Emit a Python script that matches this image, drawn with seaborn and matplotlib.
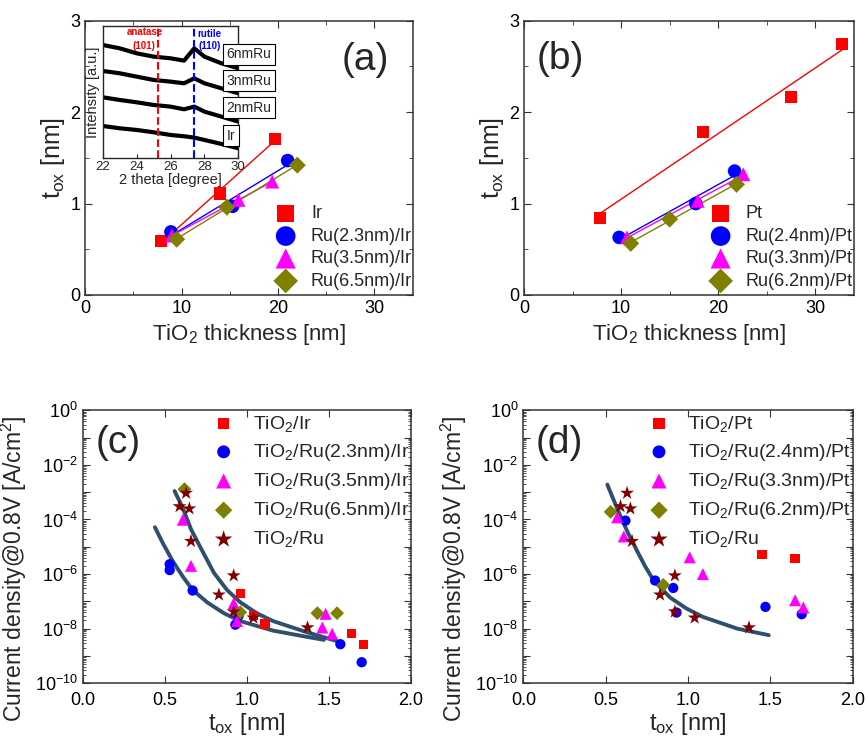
import numpy as np
import matplotlib
matplotlib.use("Agg")
import matplotlib.pyplot as plt
import seaborn as sns
from matplotlib.ticker import MultipleLocator, LogLocator, NullFormatter, FixedLocator

# ---- panel (a): TiO2 thickness vs t_ox on Ir ----
a_ir_x = [7.9, 14.0, 19.7]
a_ir_y = [0.59, 1.11, 1.71]
a_ru23_x = [8.9, 15.3, 21.0]
a_ru23_y = [0.69, 0.97, 1.47]
a_ru35_x = [9.0, 15.9, 19.4]
a_ru35_y = [0.65, 1.04, 1.24]
a_ru65_x = [9.5, 14.7, 22.0]
a_ru65_y = [0.61, 0.96, 1.42]

# inset XRD traces (read coarse from the picture)
xrd_theta = [22, 23, 24, 25, 26, 26.8, 27.4, 28, 29, 30]
xrd_6nm = [3.40, 3.30, 3.15, 3.05, 3.00, 2.93, 3.30, 3.05, 2.85, 2.70]
xrd_3nm = [2.62, 2.55, 2.45, 2.35, 2.30, 2.25, 2.40, 2.25, 2.10, 1.95]
xrd_2nm = [1.83, 1.75, 1.68, 1.60, 1.55, 1.47, 1.55, 1.40, 1.25, 1.10]
xrd_ir = [0.97, 0.90, 0.85, 0.78, 0.70, 0.66, 0.62, 0.55, 0.43, 0.30]
xrd_labels = ["6nmRu", "3nmRu", "2nmRu", "Ir"]

# ---- panel (b): TiO2 thickness vs t_ox on Pt ----
b_pt_x = [7.8, 18.4, 27.5, 32.8]
b_pt_y = [0.845, 1.78, 2.16, 2.74]
b_ru24_x = [9.8, 17.7, 21.7]
b_ru24_y = [0.63, 1.00, 1.355]
b_ru33_x = [10.6, 17.9, 22.6]
b_ru33_y = [0.63, 1.03, 1.32]
b_ru62_x = [11.0, 15.0, 21.9]
b_ru62_y = [0.565, 0.83, 1.21]

# ---- panel (c): current density vs t_ox on Ir ----
c_ir_t = [0.96, 1.04, 1.11, 1.64, 1.71]
c_ir_j = [2.0e-7, 3.0e-8, 1.5e-8, 6.8e-9, 2.7e-9]
c_ru23_t = [0.53, 0.53, 0.67, 0.93, 0.95, 1.57, 1.70]
c_ru23_j = [2.3e-6, 1.4e-6, 2.5e-7, 1.4e-8, 3.0e-8, 2.7e-9, 5.9e-10]
c_ru35_t = [0.61, 0.66, 0.92, 0.94, 1.48, 1.46, 1.52]
c_ru35_j = [9.8e-5, 2.0e-6, 8.5e-8, 1.9e-8, 3.5e-8, 1.1e-8, 6.5e-9]
c_ru65_t = [0.62, 0.96, 1.43, 1.55]
c_ru65_j = [1.3e-3, 4.0e-8, 3.7e-8, 3.7e-8]
c_fit1_t = [0.56, 0.61, 0.66, 0.72, 0.80, 0.88, 0.96, 1.06, 1.16, 1.36, 1.55]
c_fit1_j = [1.1e-3, 2.6e-4, 4.4e-5, 8.9e-6, 1.1e-6, 2.6e-7, 9.3e-8, 3.7e-8, 1.9e-8, 7.6e-9, 3.5e-9]
c_fit2_t = [0.44, 0.49, 0.55, 0.61, 0.67, 0.76, 0.86, 0.96, 1.16, 1.36, 1.47]
c_fit2_j = [5.2e-5, 1.3e-5, 2.9e-6, 8.1e-7, 2.6e-7, 9.1e-8, 3.7e-8, 1.9e-8, 8.5e-9, 5.1e-9, 3.9e-9]

# TiO2/Ru reference (same in c and d)
ru_t = [0.63, 0.59, 0.65, 0.66, 0.92, 0.83, 0.92, 1.04, 1.37]
ru_j = [9.3e-4, 3.0e-4, 2.5e-4, 1.6e-5, 8.8e-7, 1.75e-7, 4.2e-8, 2.5e-8, 1.1e-8]

# ---- panel (d): current density vs t_ox on Pt ----
d_pt_t = [1.45, 1.65]
d_pt_j = [5.2e-6, 3.7e-6]
d_ru24_t = [0.62, 0.80, 0.91, 0.93, 1.47, 1.69]
d_ru24_j = [9.1e-5, 5.8e-7, 3.1e-7, 3.9e-8, 6.3e-8, 3.4e-8]
d_ru33_t = [0.57, 0.61, 1.01, 1.09, 1.65, 1.70]
d_ru33_j = [1.2e-4, 2.4e-5, 4.1e-6, 1.0e-6, 1.1e-7, 6.0e-8]
d_ru62_t = [0.53, 0.85]
d_ru62_j = [1.9e-4, 4.0e-7]
d_fit_t = [0.51, 0.55, 0.59, 0.64, 0.69, 0.74, 0.79, 0.89, 0.99, 1.09, 1.30, 1.49]
d_fit_j = [1.9e-3, 4.9e-4, 1.3e-4, 2.8e-5, 7.2e-6, 1.9e-6, 6.0e-7, 1.4e-7, 5.5e-8, 2.7e-8, 1.0e-8, 5.8e-9]

RED, BLUE, MAG, OLIVE, STAR = "#ff0000", "#0000ff", "#ff00ff", "#808000", "#800000"
FIT = "#2f4f6f"

sns.set_style("ticks")
plt.rcParams['font.family'] = ['Liberation Sans', 'DejaVu Sans']
plt.rcParams['mathtext.fontset'] = 'custom'
plt.rcParams['mathtext.rm'] = 'Liberation Sans'
plt.rcParams['mathtext.it'] = 'Liberation Sans:italic'
plt.rcParams['mathtext.default'] = 'regular'

fig = plt.figure(figsize=(8.66, 7.41), dpi=100)
ax_a = fig.add_axes([0.0982, 0.6019, 0.3788, 0.3702])
ax_b = fig.add_axes([0.6051, 0.6019, 0.3810, 0.3702])
ax_c = fig.add_axes([0.0955, 0.0779, 0.3790, 0.3684])
ax_d = fig.add_axes([0.6043, 0.0779, 0.3804, 0.3684])


def style(ax):
    ax.tick_params(which='both', direction='in', top=True, right=True,
                   labelsize=13, color='#333333', labelcolor='black')
    ax.tick_params(which='major', length=5)
    ax.tick_params(which='minor', length=3)
    for s in ax.spines.values():
        s.set_linewidth(1.1)
        s.set_color('#333333')


def fit_line(ax, xs, ys, color):
    k, b = np.polyfit(xs, ys, 1)
    xx = np.array([min(xs), max(xs)])
    sns.lineplot(x=xx, y=k * xx + b, color=color, lw=1, ax=ax, legend=False)


def thickness_panel(ax, series, tag, loc_xy):
    for xs, ys, c, m, s, lab in series:
        fit_line(ax, xs, ys, c)
    for xs, ys, c, m, s, lab in series:
        sns.scatterplot(x=xs, y=ys, color=c, marker=m, s=s, edgecolor='none',
                        label=lab, ax=ax, zorder=3)
    ax.set_xlim(0, 34)
    ax.set_ylim(0, 3)
    ax.xaxis.set_major_locator(MultipleLocator(10))
    ax.xaxis.set_minor_locator(MultipleLocator(5))
    ax.yaxis.set_major_locator(MultipleLocator(1))
    ax.yaxis.set_minor_locator(MultipleLocator(0.5))
    ax.set_xlabel("TiO$_2$ thickness [nm]", fontsize=16)
    ax.set_ylabel("t$_{ox}$ [nm]", fontsize=18, labelpad=2)
    style(ax)
    ax.legend(loc='lower right', bbox_to_anchor=(1.03, -0.02), frameon=False,
              fontsize=13, markerscale=1.45, handletextpad=0.4,
              labelspacing=0.3, borderaxespad=0.2)
    ax.text(loc_xy[0], loc_xy[1], tag, transform=ax.transAxes, fontsize=28,
            ha='center', va='center')


thickness_panel(ax_a, [
    (a_ir_x, a_ir_y, RED, 's', 75, "Ir"),
    (a_ru23_x, a_ru23_y, BLUE, 'o', 95, "Ru(2.3nm)/Ir"),
    (a_ru35_x, a_ru35_y, MAG, '^', 100, "Ru(3.5nm)/Ir"),
    (a_ru65_x, a_ru65_y, OLIVE, 'D', 75, "Ru(6.5nm)/Ir"),
], "(a)", (0.854, 0.857))

thickness_panel(ax_b, [
    (b_pt_x, b_pt_y, RED, 's', 75, "Pt"),
    (b_ru24_x, b_ru24_y, BLUE, 'o', 95, "Ru(2.4nm)/Pt"),
    (b_ru33_x, b_ru33_y, MAG, '^', 100, "Ru(3.3nm)/Pt"),
    (b_ru62_x, b_ru62_y, OLIVE, 'D', 75, "Ru(6.2nm)/Pt"),
], "(b)", (0.11, 0.86))

# ---- inset XRD ----
ax_in = fig.add_axes([0.1186, 0.7864, 0.1566, 0.1790])
for tr in [xrd_6nm, xrd_3nm, xrd_2nm, xrd_ir]:
    sns.lineplot(x=xrd_theta, y=tr, color='black', lw=3, ax=ax_in, legend=False)
ax_in.axvline(25.28, color=RED, ls='--', lw=1.5)
ax_in.axvline(27.39, color=BLUE, ls='--', lw=1.5)
ax_in.set_xlim(22, 30)
ax_in.set_ylim(0, 3.98)
ax_in.set_xticks([22, 24, 26, 28, 30])
ax_in.set_yticks([])
ax_in.tick_params(axis='x', direction='in', labelsize=9.5, length=3, pad=2)
ax_in.set_xlabel("2 theta [degree]", fontsize=10.5, labelpad=0)
ax_in.set_ylabel("Intensity [a.u.]", fontsize=10.5, labelpad=2)
for s in ax_in.spines.values():
    s.set_linewidth(1)
ax_in.text(24.5, 0.95, "anatase", transform=ax_in.get_xaxis_transform(),
           color=RED, fontsize=7, fontweight='bold', ha='center', va='center')
ax_in.text(24.45, 0.85, "(101)", transform=ax_in.get_xaxis_transform(),
           color=RED, fontsize=7, fontweight='bold', ha='center', va='center')
ax_in.text(28.3, 0.94, "rutile", transform=ax_in.get_xaxis_transform(),
           color=BLUE, fontsize=7, fontweight='bold', ha='center', va='center')
ax_in.text(28.3, 0.85, "(110)", transform=ax_in.get_xaxis_transform(),
           color=BLUE, fontsize=7, fontweight='bold', ha='center', va='center')
for lab, yy in zip(xrd_labels, [3.12, 2.33, 1.51, 0.67]):
    ax_in.text(29.3, yy, lab, fontsize=10, ha='left', va='center', clip_on=False,
               zorder=10, bbox=dict(boxstyle='square,pad=0.25', fc='white',
                                    ec='black', lw=0.8))


def current_panel(ax, series, fits, tag):
    for ft, fj in fits:
        sns.lineplot(x=ft, y=fj, color=FIT, lw=2.8, ax=ax, legend=False,
                     estimator=None, sort=False)
    for xs, ys, c, m, s, lab in series:
        sns.scatterplot(x=xs, y=ys, color=c, marker=m, s=s, edgecolor='none',
                        label=lab, ax=ax, zorder=3)
    ax.set_yscale('log')
    ax.set_ylim(1e-10, 1)
    ax.set_xlim(0, 2)
    ax.set_xticks([0, 0.5, 1.0, 1.5, 2.0])
    ax.set_xticklabels(["0.0", "0.5", "1.0", "1.5", "2.0"])
    ax.yaxis.set_major_locator(FixedLocator([10.0 ** k for k in range(-10, 1)]))
    ax.set_yticklabels(["$10^{%d}$" % k if k % 2 == 0 else "" for k in range(-10, 1)])
    ax.yaxis.set_minor_locator(LogLocator(base=10, subs=np.arange(2, 10), numticks=20))
    ax.yaxis.set_minor_formatter(NullFormatter())
    ax.set_xlabel("t$_{ox}$ [nm]", fontsize=17, labelpad=2)
    ax.set_ylabel("Current density@0.8V [A/cm$^2$]", fontsize=16.5)
    ax.yaxis.set_label_coords(-0.165, 0.42)
    style(ax)
    ax.tick_params(axis='x', pad=6)
    ax.tick_params(axis='y', which='minor', length=2.5)
    ax.legend(loc='upper right', bbox_to_anchor=(1.03, 1.03), frameon=False,
              fontsize=14, markerscale=1.25, handletextpad=0.5,
              labelspacing=0.42, borderaxespad=0.2)
    ax.text(0.108, 0.88, tag, transform=ax.transAxes, fontsize=28,
            ha='center', va='center')


current_panel(ax_c, [
    (c_ir_t, c_ir_j, RED, 's', 45, "TiO$_2$/Ir"),
    (c_ru23_t, c_ru23_j, BLUE, 'o', 55, "TiO$_2$/Ru(2.3nm)/Ir"),
    (c_ru35_t, c_ru35_j, MAG, '^', 75, "TiO$_2$/Ru(3.5nm)/Ir"),
    (c_ru65_t, c_ru65_j, OLIVE, 'D', 50, "TiO$_2$/Ru(6.5nm)/Ir"),
    (ru_t, ru_j, STAR, '*', 110, "TiO$_2$/Ru"),
], [(c_fit1_t, c_fit1_j), (c_fit2_t, c_fit2_j)], "(c)")

current_panel(ax_d, [
    (d_pt_t, d_pt_j, RED, 's', 45, "TiO$_2$/Pt"),
    (d_ru24_t, d_ru24_j, BLUE, 'o', 55, "TiO$_2$/Ru(2.4nm)/Pt"),
    (d_ru33_t, d_ru33_j, MAG, '^', 75, "TiO$_2$/Ru(3.3nm)/Pt"),
    (d_ru62_t, d_ru62_j, OLIVE, 'D', 50, "TiO$_2$/Ru(6.2nm)/Pt"),
    (ru_t, ru_j, STAR, '*', 110, "TiO$_2$/Ru"),
], [(d_fit_t, d_fit_j)], "(d)")

fig.savefig("out.png", dpi=100)
